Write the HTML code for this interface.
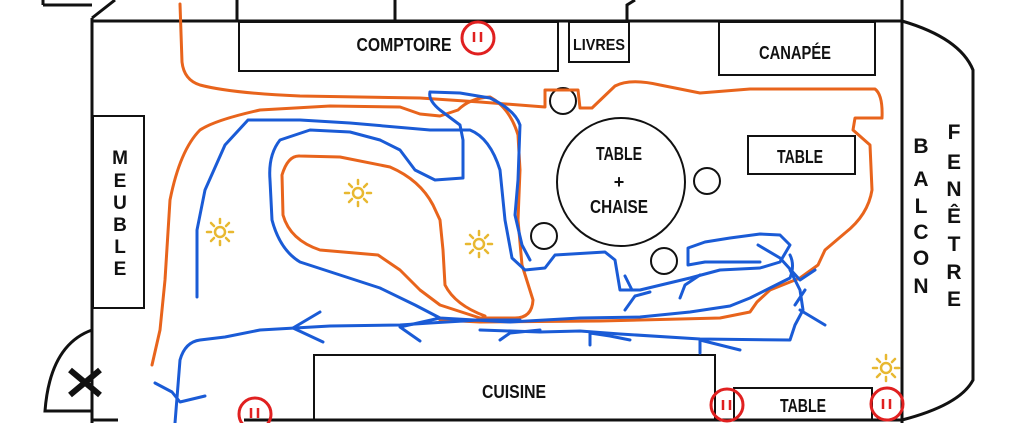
<!DOCTYPE html>
<html><head><meta charset="utf-8"><style>
html,body{margin:0;padding:0;background:#fff;}
svg{display:block;}
text{font-family:"Liberation Sans Narrow","Liberation Sans",sans-serif;font-weight:bold;fill:#111;}
</style></head><body>
<svg width="1030" height="423" viewBox="0 0 1030 423" xmlns="http://www.w3.org/2000/svg">
<g fill="none" stroke="#111" stroke-width="3">
<path d="M92,18 V423"/>
<path d="M92,21 H902"/>
<path d="M902,0 V423"/>
<path d="M43,5 H92 M43,0 V5 M92,18 L115,0"/>
<path d="M237,0 V21 M395,0 V21 M627,21 V5 L635,0"/>
<path d="M902,21 Q960,38 973,70 V380 Q960,405 902,420"/>
<path d="M92,330 Q50,345 45,411 H92"/>
<path d="M92,420 H118"/>
<path d="M244,420 H902"/>
</g>
<g fill="none" stroke="#111" stroke-width="2">
<rect x="239" y="22" width="319" height="49"/>
<rect x="569" y="22" width="60" height="40"/>
<rect x="719" y="22" width="156" height="53"/>
<rect x="93" y="116" width="51" height="192"/>
<rect x="314" y="355" width="401" height="65"/>
<rect x="734" y="388" width="138" height="32"/>
<rect x="748" y="136" width="107" height="38"/>
<circle cx="621" cy="182" r="64"/>
<circle cx="563" cy="101" r="13"/>
<circle cx="707" cy="181" r="13"/>
<circle cx="544" cy="236" r="13"/>
<circle cx="664" cy="261" r="13"/>
</g>
<path d="M70,370 L100,395 M70,395 L100,370" stroke="#111" stroke-width="6"/>
<g font-size="18" text-anchor="middle">
<text x="404" y="51" textLength="95" lengthAdjust="spacingAndGlyphs">COMPTOIRE</text>
<text x="599" y="50" font-size="16" textLength="52" lengthAdjust="spacingAndGlyphs">LIVRES</text>
<text x="795" y="59" textLength="72" lengthAdjust="spacingAndGlyphs">CANAPÉE</text>
<text x="800" y="163" textLength="46" lengthAdjust="spacingAndGlyphs">TABLE</text>
<text x="619" y="160" textLength="46" lengthAdjust="spacingAndGlyphs">TABLE</text>
<text x="619" y="188">+</text>
<text x="619" y="213" textLength="58" lengthAdjust="spacingAndGlyphs">CHAISE</text>
<text x="514" y="398" textLength="64" lengthAdjust="spacingAndGlyphs">CUISINE</text>
<text x="803" y="412" textLength="46" lengthAdjust="spacingAndGlyphs">TABLE</text>
</g>
<g font-size="19" text-anchor="middle">
<text x="120" y="164">M</text><text x="120" y="187">E</text><text x="120" y="209">U</text><text x="120" y="231">B</text><text x="120" y="253">L</text><text x="120" y="275">E</text>
<text x="921" y="153" font-size="21">B</text><text x="921" y="186" font-size="21">A</text><text x="921" y="213" font-size="21">L</text><text x="921" y="239" font-size="21">C</text><text x="921" y="265" font-size="21">O</text><text x="921" y="293" font-size="21">N</text>
<text x="954" y="139" font-size="21">F</text><text x="954" y="169" font-size="21">E</text><text x="954" y="196" font-size="21">N</text><text x="954" y="223" font-size="21">Ê</text><text x="954" y="251" font-size="21">T</text><text x="954" y="279" font-size="21">R</text><text x="954" y="306" font-size="21">E</text>
</g>
<g fill="none" stroke="#e02020" stroke-width="3">
<circle cx="478" cy="38" r="16"/>
<circle cx="727" cy="405" r="16"/>
<circle cx="887" cy="404" r="16"/>
<circle cx="255" cy="414" r="16"/>
<path d="M474,32 V42 M481,32 V42 M723,400 V410 M730,400 V410 M883,399 V409 M890,399 V409 M251,408 V418 M258,408 V418" stroke-width="2.5"/>
</g>
<g stroke="#e8b830" stroke-width="2.5" fill="none" stroke-linecap="round">
<g transform="translate(220,232)"><circle r="5"/><path d="M0,-9V-13 M0,9V13 M-9,0H-13 M9,0H13 M6,-6L9,-9 M-6,-6L-9,-9 M6,6L9,9 M-6,6L-9,9"/></g>
<g transform="translate(358,193)"><circle r="5"/><path d="M0,-9V-13 M0,9V13 M-9,0H-13 M9,0H13 M6,-6L9,-9 M-6,-6L-9,-9 M6,6L9,9 M-6,6L-9,9"/></g>
<g transform="translate(479,244)"><circle r="5"/><path d="M0,-9V-13 M0,9V13 M-9,0H-13 M9,0H13 M6,-6L9,-9 M-6,-6L-9,-9 M6,6L9,9 M-6,6L-9,9"/></g>
<g transform="translate(886,368)"><circle r="5"/><path d="M0,-9V-13 M0,9V13 M-9,0H-13 M9,0H13 M6,-6L9,-9 M-6,-6L-9,-9 M6,6L9,9 M-6,6L-9,9"/></g>
</g>
<g fill="none" stroke="#e8641c" stroke-width="3" stroke-linejoin="round" stroke-linecap="round">
<path d="M180,4 L182,62 Q184,80 200,85 Q230,93 300,96 L420,98 L480,102 L545,107 L545,90 L578,90 L580,108 L592,108 L615,86 Q630,78 660,85 L700,93 L750,89 L875,89 Q883,95 882,118 L855,118 L853,130 L870,145 L872,190 Q868,215 845,233 L825,250 L818,265 L800,278 L770,290 L757,302 L750,312 L720,318 L600,321 L480,322 L440,320"/>
<path d="M152,365 L160,330 L165,280 L170,200 Q180,150 200,130 Q215,120 260,110 L330,106 L400,107 L420,114 L440,116 L458,110 Q470,98 490,97 Q510,108 518,135 L520,170 L518,220 L522,265 L533,300 Q532,318 515,318 L480,318 L440,305 L420,290 L400,270 L378,255 L320,250 Q290,240 283,215 L282,175 Q288,155 300,156 L340,157 L390,167 Q420,180 433,205 L440,220 L443,250 L445,285 Q455,305 485,316"/>
</g>
<g fill="none" stroke="#1a5bd6" stroke-width="3" stroke-linejoin="round" stroke-linecap="round">
<path d="M197,297 L197,230 L205,190 L225,145 L248,120 L300,120 L350,123 L430,130 L470,130 Q490,138 500,170 L505,220 L512,258 L525,270 L545,268 L555,255 L605,252 L615,260 L620,290 L640,290 L690,278 L720,270 L760,268 L780,262 L790,245 L780,235 L760,234 L730,238 L705,242 L688,248 L688,265 L705,262 L760,262"/>
<path d="M430,92 L460,93 L490,98 Q515,110 520,125 L518,180 L515,215 L522,245 L530,260"/>
<path d="M430,92 Q428,100 440,110 L460,125 L463,140 L463,178 L435,180 L415,170 L400,150 L380,140 L350,132 L310,130 L280,140 Q268,155 270,180 L272,220 Q280,250 300,262 L340,275 L380,288 L415,305 L440,318 L510,322 L580,318 L640,317 L690,312 L730,306 L750,298 L770,288 L790,278 Q795,265 790,255"/>
<path d="M175,423 L180,360 Q185,342 200,340 L225,337 L260,330 L330,326 L400,325 L430,323 L480,320 L520,320"/>
<path d="M155,383 L172,392 L180,402 L205,396"/>
<path d="M320,312 L293,328 L323,342"/>
<path d="M440,318 L400,327 L420,341"/>
<path d="M480,330 L540,332 L580,331 L620,334 L700,339 L790,340 L795,325 L803,310 L800,290 L790,270"/>
<path d="M540,330 L510,333 L500,340"/>
<path d="M590,345 L590,333 L610,336 L630,340"/>
<path d="M700,353 L700,340 L720,345 L740,350"/>
<path d="M758,245 L780,258 L800,280 L815,270 M795,305 L805,290 M800,310 L825,325"/>
<path d="M625,310 L635,296 L650,292 M625,276 L632,290"/>
<path d="M680,298 L685,285 L700,275"/>
</g>
</svg>
</body></html>
